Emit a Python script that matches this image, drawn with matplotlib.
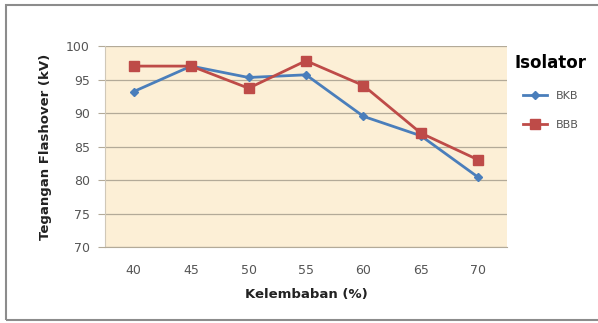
import numpy as np
import matplotlib.pyplot as plt
from matplotlib.patches import Rectangle

# data
kelembaban = [40, 45, 50, 55, 60, 65, 70]
bkb = [93.2, 97.0, 95.3, 95.7, 89.5, 86.6, 80.4]
bbb = [97.0, 97.0, 93.7, 97.8, 94.1, 87.0, 83.0]
y_ticks = [70, 75, 80, 85, 90, 95, 100]

fig = plt.figure(figsize=(5.98, 3.23), dpi=100)
fig.patch.set_facecolor('white')

# outer frame of the chart
fig.patches.append(Rectangle((6 / 598, 1 - 320 / 323), 1.0, (320 - 5) / 323,
                             transform=fig.transFigure, fill=False,
                             edgecolor='#8c8c8c', linewidth=1.5))

ax = fig.add_axes([105 / 598, 1 - 247 / 323, 402 / 598, 201 / 323])
ax.set_facecolor('#fcefd6')

x = np.arange(len(kelembaban))
ax.plot(x, bkb, color='#4a7ebb', linewidth=2, marker='D', markersize=4.5, label='BKB')
ax.plot(x, bbb, color='#be4b48', linewidth=2, marker='s', markersize=6.5, label='BBB')

ax.set_xlim(-0.5, len(kelembaban) - 0.5)
ax.set_ylim(70, 100)
ax.set_yticks(y_ticks)
ax.set_xticks(x)
ax.set_xticklabels([str(k) for k in kelembaban])
ax.yaxis.grid(True, color='#b3aa98', linewidth=0.9)
ax.set_axisbelow(True)
for s in ['top', 'right']:
    ax.spines[s].set_visible(False)
ax.spines['bottom'].set_color('#b3aa98')
ax.spines['left'].set_color('#d0c8b8')
ax.tick_params(axis='y', length=5, color='#b3aa98', labelsize=9, labelcolor='#555555', pad=6)
ax.tick_params(axis='x', length=0, labelsize=9, labelcolor='#555555', pad=12)

ax.set_ylabel('Tegangan Flashover (kV)', fontsize=9.5, fontweight='bold', color='#222222', labelpad=10)
ax.set_xlabel('Kelembaban (%)', fontsize=9.5, fontweight='bold', color='#222222', labelpad=8)

leg = ax.legend(title='Isolator', loc='upper left', bbox_to_anchor=(1.0, 1.0),
                frameon=False, fontsize=8, handlelength=2.2, labelspacing=1.7,
                borderaxespad=0.3)
leg.get_title().set_fontweight('bold')
leg.get_title().set_fontsize(12)
leg._legend_box.sep = 14
for t in leg.get_texts():
    t.set_color('#555555')

fig.savefig('out.png', dpi=100)
